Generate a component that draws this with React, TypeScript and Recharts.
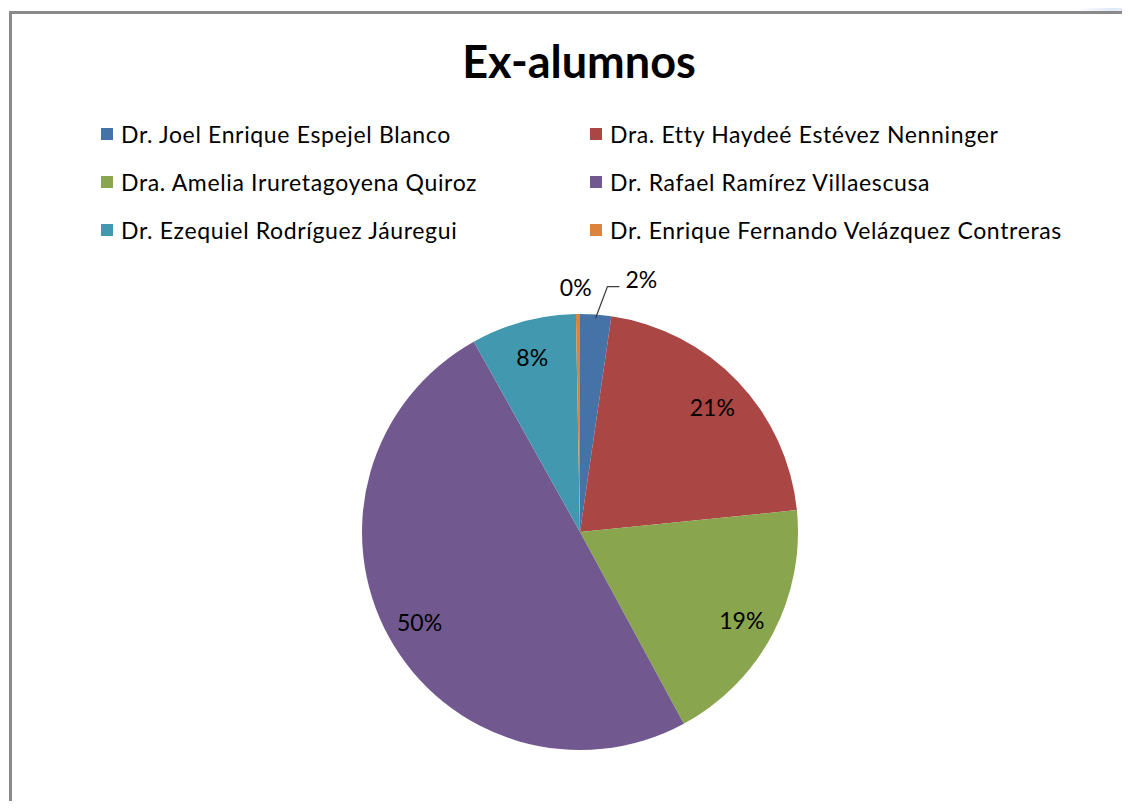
import { PieChart, Pie, Cell } from "recharts";

const names = [
  "Dr. Joel Enrique Espejel Blanco",
  "Dra. Etty Haydeé Estévez Nenninger",
  "Dra. Amelia Iruretagoyena Quiroz",
  "Dr. Rafael Ramírez Villaescusa",
  "Dr. Ezequiel Rodríguez Jáuregui",
  "Dr. Enrique Fernando Velázquez Contreras",
];
const shares = [2.3, 21.1, 18.7, 49.8, 7.8, 0.3];
const colors = ["#4572A7", "#AA4643", "#89A54E", "#71588F", "#4198AF", "#DB843D"];

const data = names.map((name, i) => ({ name, value: shares[i] }));

const FONT = "Lato, 'Liberation Sans', sans-serif";
const RAD = Math.PI / 180;

const renderLabel = (props: any) => {
  const { cx, cy, midAngle, outerRadius, percent, index } = props;
  const txt = `${Math.round(percent * 100)}%`;
  const sin = Math.sin(-midAngle * RAD);
  const cos = Math.cos(-midAngle * RAD);
  if (percent >= 0.05) {
    const r = outerRadius * 0.84;
    return (
      <text x={cx + r * cos} y={cy + r * sin + 2} fill="#000" fontSize={23} fontFamily={FONT}
        textAnchor="middle" dominantBaseline="central">
        {txt}
      </text>
    );
  }
  if (index === 0) {
    const sx = cx + (outerRadius - 4) * cos;
    const sy = cy + (outerRadius - 4) * sin;
    const ex = sx + 12;
    const ey = sy - 32;
    return (
      <g>
        <polyline points={`${sx},${sy} ${ex},${ey} ${ex + 12},${ey}`} fill="none" stroke="#404040" strokeWidth={1.3} />
        <text x={ex + 18} y={ey - 8} fill="#000" fontSize={23} fontFamily={FONT} dominantBaseline="central">
          {txt}
        </text>
      </g>
    );
  }
  const r = outerRadius + 27;
  return (
    <text x={cx + r * cos - 2} y={cy + r * sin} fill="#000" fontSize={23} fontFamily={FONT}
      textAnchor="middle" dominantBaseline="central">
      {txt}
    </text>
  );
};

// legend in the same order as the series, two columns
const LegendBox = () => (
  <div style={{ position: "absolute", left: 101, top: 110, display: "grid", gridTemplateColumns: "489px 540px", fontFamily: FONT, fontSize: 23, letterSpacing: 0.65, color: "#000" }}>
    {names.map((n, i) => (
      <div key={n} style={{ display: "flex", alignItems: "center", height: 48 }}>
        <span style={{ width: 12, height: 12, background: colors[i], display: "inline-block", marginRight: 8, flex: "none" }} />
        <span style={{ whiteSpace: "nowrap" }}>{n}</span>
      </div>
    ))}
  </div>
);

export default function App() {
  return (
    <div style={{ position: "relative", width: 1130, height: 809, margin: -8, background: "#fff", overflow: "hidden" }}>
      <div style={{ position: "absolute", left: 1080, top: -10, width: 70, height: 22, background: "linear-gradient(100deg, #fff 0%, #dfe8f5 50%, #fff 100%)" }} />
      <div style={{ position: "absolute", left: 9, top: 11, width: 1140, height: 820, borderLeft: "3px solid #8a8a8a", borderTop: "3px solid #8a8a8a" }} />
      <div style={{ position: "absolute", left: 0, width: 1158, top: 34, textAlign: "center", fontFamily: FONT, fontWeight: 700, fontSize: 45, color: "#000" }}>
        Ex-alumnos
      </div>
      <LegendBox />
      <div style={{ position: "absolute", left: 0, top: 0 }}>
        <PieChart width={1130} height={809} margin={{ top: 0, right: 0, bottom: 0, left: 0 }}>
          <Pie
            data={data}
            dataKey="value"
            nameKey="name"
            cx={580}
            cy={532}
            outerRadius={218}
            startAngle={90}
            endAngle={-270}
            stroke="none"
            label={renderLabel}
            labelLine={false}
            isAnimationActive={false}
          >
            {data.map((d, i) => (
              <Cell key={d.name} fill={colors[i]} />
            ))}
          </Pie>
        </PieChart>
      </div>
    </div>
  );
}
